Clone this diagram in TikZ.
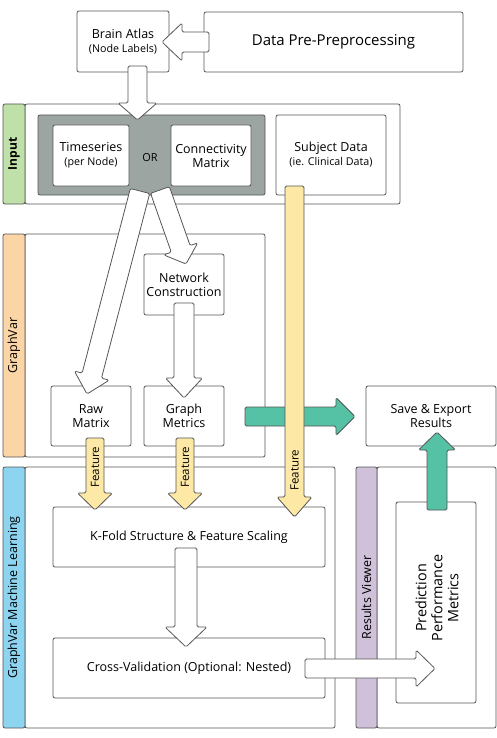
\documentclass[tikz,border=0pt]{standalone}
\usepackage{fontspec}
\usepackage{graphicx}
\setmainfont{Open Sans}
\usetikzlibrary{calc}
\definecolor{lc}{HTML}{555555}
\definecolor{grayc}{HTML}{9CA5A1}
\definecolor{inputc}{HTML}{BFE0A8}
\definecolor{gvc}{HTML}{FCD5A6}
\definecolor{mlc}{HTML}{8DD4F0}
\definecolor{rvc}{HTML}{CFC1D9}
\definecolor{yelc}{HTML}{FDE8A6}
\definecolor{grnc}{HTML}{56C2A5}
\newcommand\subtxt{\fontsize{10.7}{14}\selectfont}
% #1 style, #2 tail, #3 tip, #4 shaft half width, #5 head half width, #6 head length
\newcommand\blockarrow[6]{%
  \path ($(#3)!#6!(#2)$) coordinate (bab);
  \draw[#1] ($(#2)!#4!90:(#3)$) -- ($(bab)!#4!-90:(#2)$) -- ($(bab)!#5!-90:(#2)$)
    -- (#3) -- ($(bab)!#5!90:(#2)$) -- ($(bab)!#4!90:(#2)$) -- ($(#2)!#4!-90:(#3)$) -- cycle;
}
\tikzset{
  box/.style={draw=lc, line width=0.8pt, rounded corners=2pt, fill=white, inner sep=0pt,
    align=center, font=\fontsize{12.5}{14}\selectfont},
  band/.style={draw=lc, line width=0.8pt, rounded corners=2pt, inner sep=0pt, rotate=90,
    minimum height=22pt, font=\fontsize{12.5}{14}\selectfont},
  warr/.style={draw=lc, line width=0.8pt, fill=white, rounded corners=1.5pt, line join=round},
  garr/.style={warr, fill=grnc},
  yarr/.style={warr, fill=yelc},
  ftxt/.style={rotate=90, inner sep=0pt, font=\fontsize{11.5}{14}\selectfont},
}
\begin{document}
\begin{tikzpicture}[x=1pt, y=-1pt]
\useasboundingbox[fill=white] (0,0) rectangle (497,738);
% top boxes
\node[box, minimum width=92pt, minimum height=61pt] (atlas) at (123,41.5) {Brain Atlas\\\subtxt (Node Labels)};
\node[box, minimum width=259pt, minimum height=60pt, font=\fontsize{15}{18}\selectfont] (prep) at (333.5,42) {Data Pre-Preprocessing};
% input
\node[box, minimum width=375pt, minimum height=100pt] (inbox) at (212.5,154) {};
\node[band, fill=inputc, minimum width=100pt, font=\fontsize{12}{14}\selectfont\bfseries] (inband) at (14,154) {Input};
\node[box, fill=grayc, minimum width=227pt, minimum height=80pt] (gray) at (151.5,155) {};
\node[box, minimum width=76pt, minimum height=61pt] (ts) at (91,155.5) {Timeseries\\\subtxt (per Node)};
\node[box, minimum width=80pt, minimum height=61pt] (cm) at (211,155.5) {Connectivity\\Matrix};
\node[inner sep=0pt, font=\fontsize{11}{12}\selectfont] (or) at (150,158) {OR};
\node[box, minimum width=110pt, minimum height=80pt] (subj) at (331,155) {Subject Data\\\subtxt (ie. Clinical Data)};
% GraphVar
\node[box, minimum width=240pt, minimum height=223pt] (gvbox) at (145,345.5) {};
\node[band, fill=gvc, minimum width=223pt] (gvband) at (14,345.5) {GraphVar};
\node[box, minimum width=80pt, minimum height=61pt] (nc) at (184,284.5) {Network\\Construction};
\node[box, minimum width=80pt, minimum height=60pt] (raw) at (91,416) {Raw\\Matrix};
\node[box, minimum width=80pt, minimum height=60pt] (gm) at (184,416) {Graph\\Metrics};
\node[box, minimum width=130pt, minimum height=60pt] (save) at (431,416) {Save \& Export\\Results};
% Machine learning
\node[box, minimum width=310pt, minimum height=261pt] (mlbox) at (180,597.5) {};
\node[band, fill=mlc, minimum width=261pt] (mlband) at (14,597.5) {GraphVar Machine Learning};
\node[box, minimum width=272pt, minimum height=60pt] (kfold) at (189,537) {K-Fold Structure \& Feature Scaling};
\node[box, minimum width=272pt, minimum height=60pt] (cv) at (189,668) {Cross-Validation (Optional: Nested)};
% Results viewer
\node[box, minimum width=119pt, minimum height=261pt] (rvbox) at (436.5,597.5) {};
\node[band, fill=rvc, minimum width=261pt, minimum height=21pt] (rvband) at (366.5,597.5) {Results Viewer};
\node[box, minimum width=80pt, minimum height=201pt] (ppm) at (436,602.5) {};
\node[rotate=90, inner sep=0pt, align=center, font=\fontsize{14.4}{16}\selectfont] (ppmtxt) at (437,598) {Prediction\\Performance\\Metrics};
% arrow end points
\coordinate (a1t) at (209,42);    \coordinate (a1h) at (162,42);
\coordinate (a2t) at (137.5,66);  \coordinate (a2h) at (137.5,120);
\coordinate (a3t) at (140,191);   \coordinate (a3h) at (87,394);
\coordinate (a4t) at (160,190);   \coordinate (a4h) at (186,264);
\coordinate (a5t) at (184,303);   \coordinate (a5h) at (184,398);
\coordinate (g1t) at (245,416.5); \coordinate (g1h) at (355,416.5);
\coordinate (y1t) at (95,438);    \coordinate (y1h) at (95,510);
\coordinate (y2t) at (185,438);   \coordinate (y2h) at (185,510);
\coordinate (y3t) at (294.5,186); \coordinate (y3h) at (294.5,517);
\coordinate (a6t) at (186,548);   \coordinate (a6h) at (186,647);
\coordinate (a7t) at (305,668.5); \coordinate (a7h) at (435,668.5);
\coordinate (g2t) at (437,510);   \coordinate (g2h) at (437,432);
% arrows
\blockarrow{warr}{a1t}{a1h}{10pt}{19pt}{20pt}
\blockarrow{warr}{a2t}{a2h}{9.5pt}{19.5pt}{17pt}
\blockarrow{warr}{a3t}{a3h}{10pt}{18pt}{19pt}
\blockarrow{warr}{a4t}{a4h}{10pt}{18pt}{16pt}
\blockarrow{warr}{a5t}{a5h}{10pt}{18.5pt}{20pt}
\blockarrow{garr}{g1t}{g1h}{9.5pt}{19pt}{19pt}
\blockarrow{yarr}{y1t}{y1h}{9pt}{17.5pt}{17pt}
\blockarrow{yarr}{y2t}{y2h}{9pt}{17.5pt}{17pt}
\blockarrow{yarr}{y3t}{y3h}{9.5pt}{17.5pt}{20pt}
\node[ftxt] (f1) at (95,467) {Feature};
\node[ftxt] (f2) at (185,467) {Feature};
\node[ftxt] (f3) at (294.5,470) {Feature};
\blockarrow{warr}{a6t}{a6h}{11pt}{21pt}{20pt}
\blockarrow{warr}{a7t}{a7h}{9.5pt}{18.5pt}{19pt}
\blockarrow{garr}{g2t}{g2h}{10pt}{18.5pt}{18pt}
\end{tikzpicture}
\end{document}
